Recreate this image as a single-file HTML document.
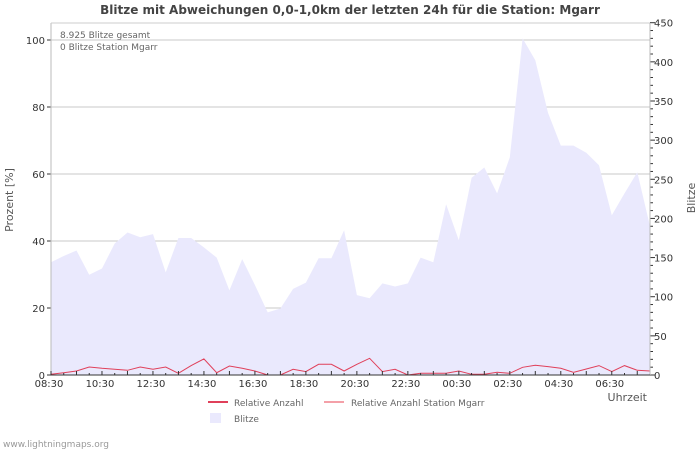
<!DOCTYPE html>
<html><head><meta charset="utf-8"><style>
body{margin:0;background:#fff;width:700px;height:450px;overflow:hidden;font-family:"Liberation Sans","DejaVu Sans",sans-serif}
svg text{font-family:"DejaVu Sans","Liberation Sans",sans-serif}
</style></head><body>
<svg id="chart" width="700" height="450" viewBox="0 0 700 450">
<text x="350" y="14" text-anchor="middle" font-size="12" font-weight="bold" fill="#444">Blitze mit Abweichungen 0,0-1,0km der letzten 24h für die Station: Mgarr</text>
<g id="grid"></g>
<path id="area" fill="#eae9fd"/>
<polyline id="line" fill="none" stroke="#e0405a" stroke-width="1"/>
<g id="axes"></g>
<text x="60" y="38" font-size="9" fill="#666">8.925 Blitze gesamt</text>
<text x="60" y="50" font-size="9" fill="#666">0 Blitze Station Mgarr</text>
<text transform="translate(13,200) rotate(-90)" text-anchor="middle" font-size="11" fill="#555">Prozent   [%]</text>
<text transform="translate(695,198) rotate(-90)" text-anchor="middle" font-size="11" fill="#555">Blitze</text>
<text x="647" y="401" text-anchor="end" font-size="11" fill="#555">Uhrzeit</text>
<g>
<line x1="208" y1="402" x2="228" y2="402" stroke="#e0405a" stroke-width="2"/>
<text x="234" y="406" font-size="9" fill="#666">Relative Anzahl</text>
<line x1="324" y1="402" x2="344" y2="402" stroke="#f4a0a8" stroke-width="2"/>
<text x="351" y="406" font-size="9" fill="#666">Relative Anzahl Station Mgarr</text>
<rect x="210" y="413" width="11" height="10" fill="#eae9fd"/>
<text x="234" y="422" font-size="9" fill="#666">Blitze</text>
</g>
<text x="3" y="447" font-size="9" fill="#999">www.lightningmaps.org</text>
</svg>
<script>
const blitze=[144,152,159,128,136,168,182,176,180,131,175,175,163,150,108,148,115,80,85,110,118,149,149,185,102,98,117,113,117,150,144,218,172,252,265,232,278,430,402,335,293,293,284,268,204,232,259,190];
const relAnzahl=[0.2,0.7,1.2,2.4,2,1.7,1.4,2.4,1.7,2.4,0.5,2.8,4.8,0.7,2.7,2,1.2,0,0,1.7,1,3.2,3.2,1.2,3.2,5,1,1.7,0,0.5,0.5,0.5,1.2,0.2,0.2,0.8,0.5,2.3,2.9,2.5,2,0.8,1.8,2.8,1,2.8,1.4,1.2];
const leftTicks=[0,20,40,60,80,100];
const rightTicks=[0,50,100,150,200,250,300,350,400,450];
const xLabels=["08:30","10:30","12:30","14:30","16:30","18:30","20:30","22:30","00:30","02:30","04:30","06:30"];
const X0=51,X1=650,Y0=375,YT=23,STEP=(X1-X0)/47;
const xS=i=>X0+i*STEP;
const yL=v=>Y0-v*3.35;
const yR=v=>Y0-v*(Y0-22.7)/450;
const NS="http://www.w3.org/2000/svg";
const grid=document.getElementById('grid'),axes=document.getElementById('axes');
function mk(p,tag,a){const e=document.createElementNS(NS,tag);for(const k in a)e.setAttribute(k,a[k]);p.appendChild(e);return e;}
leftTicks.forEach(v=>{
 if(v>0){const g=mk(grid,'line',{x1:X0,x2:X1,y1:yL(v),y2:yL(v),stroke:'#c8c8c8'});
 
 }
 const t=mk(axes,'text',{x:45,y:yL(v)+4,'text-anchor':'end','font-size':10,fill:'#333'});t.textContent=v;
 
 
 mk(axes,'line',{x1:X0-4,x2:X0,y1:yL(v),y2:yL(v),stroke:'#333'});
});
for(let v=0;v<=450;v+=10){mk(axes,'line',{x1:X1,x2:X1+(v%50?3:5),y1:yR(v),y2:yR(v),stroke:'#333'});}
rightTicks.forEach(v=>{const t=mk(axes,'text',{x:654,y:yR(v)+4,'font-size':10,fill:'#333'});t.textContent=v;
 
 });
let d='M'+X0+','+Y0;blitze.forEach((v,i)=>d+=' L'+xS(i).toFixed(1)+','+yR(v).toFixed(1));d+=' L'+X1+','+Y0+'Z';
document.getElementById('area').setAttribute('d',d);
document.getElementById('line').setAttribute('points',relAnzahl.map((v,i)=>xS(i).toFixed(1)+','+yL(v).toFixed(1)).join(' '));
mk(axes,'line',{x1:X0,x2:X0,y1:YT,y2:Y0,stroke:'#bbb'});
mk(axes,'line',{x1:X0,x2:X1,y1:YT,y2:YT,stroke:'#ccc'});
mk(axes,'line',{x1:X1,x2:X1,y1:YT,y2:Y0,stroke:'#bbb'});
mk(axes,'line',{x1:X0,x2:X1,y1:Y0,y2:Y0,stroke:'#333'});
for(let i=0;i<=46;i++){mk(axes,'line',{x1:xS(i),x2:xS(i),y1:Y0,y2:Y0-(i%2?2:4),stroke:'#333'});}
xLabels.forEach((l,k)=>{const t=mk(axes,'text',{x:xS(k*4)-2,y:387,'text-anchor':'middle','font-size':10,fill:'#333'});t.textContent=l;
 
 });
</script>
</body></html>
